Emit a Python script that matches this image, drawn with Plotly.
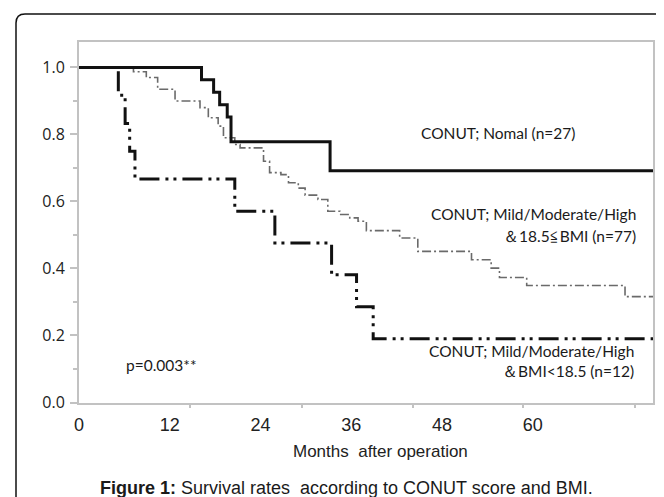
import plotly.graph_objects as go

# ---------------- data (months, survival) ----------------
normal_t = [0, 16.2, 17.8, 18.6, 19.6, 20.1, 33.2, 75.9]
normal_s = [1.0, 0.963, 0.926, 0.889, 0.852, 0.778, 0.692, 0.692]

high_t = [0, 7.2, 8.9, 10.4, 12.7, 16.0, 17.1, 18.4, 19.1, 20.6, 21.3, 24.4, 25.2,
          26.7, 27.7, 29.0, 29.9, 31.6, 32.9, 34.5, 35.8, 36.9, 38.0, 42.4, 44.8,
          51.9, 54.5, 55.6, 59.2, 72.2, 75.9]
high_s = [1.0, 0.987, 0.970, 0.935, 0.900, 0.880, 0.850, 0.825, 0.790, 0.770, 0.760, 0.720, 0.686,
          0.680, 0.656, 0.640, 0.619, 0.606, 0.571, 0.561, 0.551, 0.541, 0.513, 0.491, 0.451,
          0.426, 0.401, 0.373, 0.349, 0.316, 0.316]

low_t = [0, 5.2, 6.1, 6.7, 7.4, 20.6, 25.9, 33.4, 36.7, 38.9, 75.9]
low_s = [1.0, 0.917, 0.833, 0.750, 0.667, 0.571, 0.476, 0.381, 0.286, 0.190, 0.190]

x_tick_vals = [0, 12, 24, 36, 48, 60]
x_tick_text = ["0", "12", "24", "36", "48", "60"]
x_mark_vals = [14.7, 29.5, 44.2, 58.7, 73.5]
y_tick_vals = [0.0, 0.2, 0.4, 0.6, 0.8, 1.0]
y_tick_text = ["0.0", "0.2", "0.4", "0.6", "0.8", "1.0"]

X_RANGE = [0, 75.9]
Y_RANGE = [-0.0015, 1.076]

W, H = 664, 497
ML, MR, MT, MB = 71, 19, 34, 102
PW = W - ML - MR
PH = H - MT - MB


def px(x):
    return (x - ML) / PW


def py(y):
    return (H - MB - y) / PH


fig = go.Figure()

fig.add_trace(go.Scatter(
    x=high_t, y=high_s, mode="lines", line_shape="hv",
    line=dict(color="#6a6a6a", width=1.6, dash="9px,3px,2px,3px"),
    showlegend=False, hoverinfo="skip"))
fig.add_trace(go.Scatter(
    x=low_t, y=low_s, mode="lines", line_shape="hv",
    line=dict(color="#111111", width=3, dash="20px,6px,3px,5px,3px,6px"),
    showlegend=False, hoverinfo="skip"))
fig.add_trace(go.Scatter(
    x=normal_t, y=normal_s, mode="lines", line_shape="hv",
    line=dict(color="#111111", width=3),
    showlegend=False, hoverinfo="skip"))
# invisible trace to host the tick-mark axis
fig.add_trace(go.Scatter(x=[0], y=[0], xaxis="x2", mode="none",
                         showlegend=False, hoverinfo="skip"))

axis_gray = "#c2c2c2"

fig.update_layout(
    width=W, height=H,
    margin=dict(l=ML, r=MR, t=MT, b=MB, pad=0),
    paper_bgcolor="white", plot_bgcolor="white",
    xaxis=dict(range=X_RANGE, showgrid=False, zeroline=False,
               showline=True, mirror=True, linecolor=axis_gray, linewidth=2,
               tickmode="array", tickvals=x_tick_vals, ticktext=x_tick_text,
               ticks="", ticklabelstandoff=4,
               tickfont=dict(family="Liberation Sans Narrow, Arial Narrow, sans-serif",
                             size=18, color="#222222")),
    xaxis2=dict(range=X_RANGE, overlaying="x", showgrid=False, zeroline=False,
                showline=False, tickmode="array", tickvals=x_mark_vals,
                ticks="outside", ticklen=4, tickcolor=axis_gray, tickwidth=1.5,
                showticklabels=False),
    yaxis=dict(range=Y_RANGE, showgrid=False, zeroline=False,
               showline=True, mirror=True, linecolor=axis_gray, linewidth=2,
               tickmode="array", tickvals=y_tick_vals, ticktext=y_tick_text,
               ticks="outside", ticklen=7, tickcolor=axis_gray, tickwidth=1.5,
               ticklabelstandoff=2,
               minor=dict(tickmode="array", tickvals=[0.1, 0.3, 0.5, 0.7, 0.9],
                          ticks="outside", ticklen=4, tickcolor=axis_gray, tickwidth=1.5),
               tickfont=dict(family="Open Sans, sans-serif", size=16, color="#222222")),
)

txt_font = dict(family="Lato, sans-serif", size=15.5, color="#1a1a1a")
annos = [
    ("CONUT; Nomal (n=27)", 411.7, 125, "left"),
    ("CONUT; Mild/Moderate/High", 628.5, 206, "right"),
    ("\uff0618.5\u2266BMI (n=77)", 628.5, 228.3, "right"),
    ("CONUT; Mild/Moderate/High", 626.7, 343.3, "right"),
    ("\uff06BMI<18.5 (n=12)", 626.5, 363.3, "right"),
    ("p=0.003**", 116.7, 356.7, "left"),
]
for t, x, y, anc in annos:
    fig.add_annotation(text=t, x=px(x), y=py(y), xref="paper", yref="paper",
                       xanchor=anc, yanchor="middle", showarrow=False,
                       font=txt_font, borderpad=0)

fig.add_annotation(text="Months\u00a0 after operation", x=px(372), y=py(443.5),
                   xref="paper", yref="paper", xanchor="center", yanchor="middle",
                   showarrow=False, borderpad=0,
                   font=dict(family="Liberation Sans Narrow, Arial Narrow, sans-serif",
                             size=17, color="#222222"))

fig.add_annotation(text="<b>Figure 1:</b> Survival rates\u00a0 according to CONUT score and BMI.",
                   x=px(338), y=py(479.5), xref="paper", yref="paper",
                   xanchor="center", yanchor="middle", showarrow=False, borderpad=0,
                   font=dict(family="Liberation Sans, Arial, sans-serif",
                             size=18, color="#1a1a1a"))

# outer rounded frame (cropped on right / bottom)
r = 9
path = (f"M {px(8)},{py(505)} L {px(8)},{py(6 + r)} "
        f"Q {px(8)},{py(6)} {px(8 + r)},{py(6)} L {px(680)},{py(6)}")
fig.add_shape(type="path", path=path, xref="paper", yref="paper",
              line=dict(color="#111111", width=1.5), layer="above")

fig.write_html("out.html")
